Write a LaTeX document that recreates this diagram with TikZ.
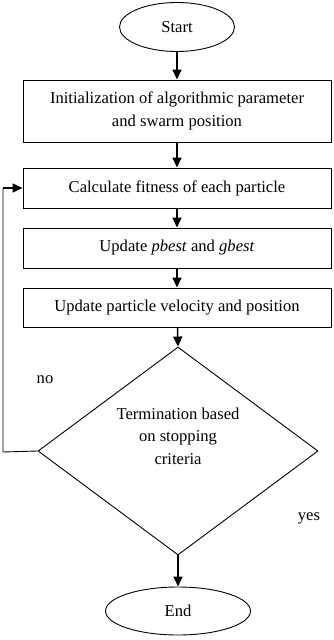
\documentclass[tikz,border=0pt]{standalone}
\usepackage{fontspec}
\setmainfont{Liberation Serif}
\usetikzlibrary{shapes.geometric,arrows.meta}
\begin{document}
\begin{tikzpicture}[x=1pt,y=-1pt,
  every node/.style={font=\fontsize{16.6}{22.5}\selectfont},
  stepbox/.style={draw,line width=0.9pt,minimum width=308pt,inner sep=0pt,align=center},
  term/.style={draw,ellipse,line width=0.9pt,inner sep=0pt},
  arr/.style={line width=1.5pt,-{Triangle[length=10pt,width=9pt]}},
  plain/.style={line width=0.9pt}]
\useasboundingbox (0,0) rectangle (333,640);
\node[term,minimum width=115pt,minimum height=49pt] (start) at (177,27) {Start};
\node[stepbox,minimum height=62pt] (init) at (177,111) {Initialization of algorithmic parameter\\and swarm position};
\node[stepbox,minimum height=40pt] (calc) at (177,188) {Calculate fitness of each particle};
\node[stepbox,minimum height=40pt] (upd) at (177,248) {Update \textit{pbest} and \textit{gbest}};
\node[stepbox,minimum height=39pt] (vel) at (177,307.5) {Update particle velocity and position};
\node[draw,diamond,line width=0.9pt,minimum width=280pt,minimum height=208pt,inner sep=0pt] (dec) at (178,451) {};
\node[align=center] (dtext) at (178,436) {Termination based\\on stopping\\criteria};
\node[term,minimum width=145pt,minimum height=48pt] (end) at (178,611) {End};
\node (no) at (45,380) {no};
\node (yes) at (309,518) {yes};
\coordinate (c1) at (3,452);
\coordinate (c2) at (3,188);
\draw[arr] (start) -- (init);
\draw[arr] (init) -- (calc);
\draw[arr] (calc) -- (upd);
\draw[arr] (upd) -- (vel);
\draw[arr] (vel) -- (dec.north);
\draw[arr] (dec.south) -- (end);
\draw[plain] (dec.west) -- (c1) -- (c2);
\draw[arr] (c2) -- (calc.west);
\end{tikzpicture}
\end{document}
